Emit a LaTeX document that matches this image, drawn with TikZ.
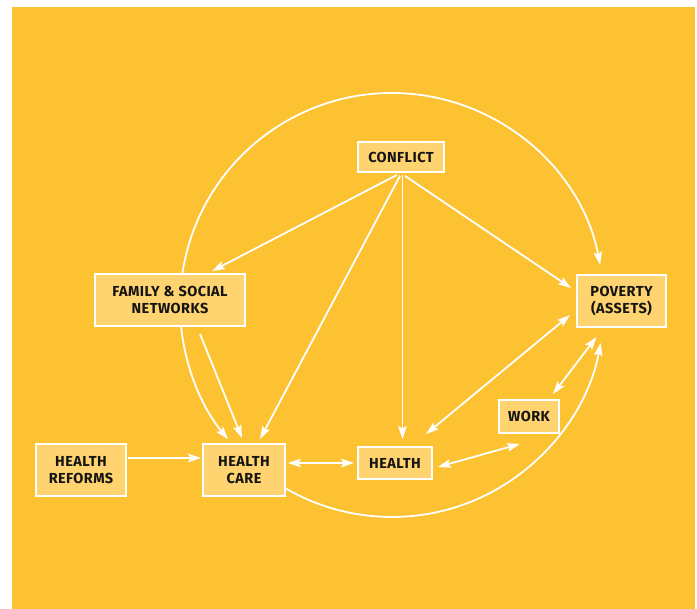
\documentclass[tikz,border=0pt]{standalone}
\usepackage{fontspec}
\setsansfont[LetterSpace=3]{Fira Sans}
\usetikzlibrary{calc,arrows.meta}

\definecolor{bgyellow}{HTML}{FCC232}
\definecolor{boxyellow}{HTML}{FFD470}
\definecolor{ink}{HTML}{141414}

\tikzset{
  factor/.style={draw=white, line width=1.8pt, fill=boxyellow, text=ink,
    inner sep=0pt, align=center,
    font=\sffamily\bfseries\fontsize{14.5}{17}\selectfont},
  tip/.tip={Stealth[length=13pt,width=8.5pt,inset=2.5pt]},
  link/.style={draw=white, line width=1.8pt, -tip},
  dlink/.style={draw=white, line width=1.8pt, tip-tip},
}

\begin{document}
\begin{tikzpicture}[x=1pt,y=-1pt]
		%%%%% START %%%%%
		
		\useasboundingbox (0,0) rectangle (697,609);
		\fill[bgyellow] (12,7) rectangle (695,609);
		
		\coordinate (hub) at (392,305);
		
		\node[factor, minimum width=86pt, minimum height=30pt] (conflict) at (401,157) {CONFLICT};
		\node[factor, minimum width=150pt, minimum height=52pt] (family) at (170,300) {FAMILY \& SOCIAL\\NETWORKS};
		\node[factor, minimum width=89pt, minimum height=52pt] (poverty) at (621.5,301) {POVERTY\\(ASSETS)};
		\node[factor, minimum width=90pt, minimum height=52pt] (reforms) at (81,470) {HEALTH\\REFORMS};
		\node[factor, minimum width=82pt, minimum height=52pt] (care) at (244,470) {HEALTH\\CARE};
		\node[factor, minimum width=74pt, minimum height=32pt] (health) at (395,463) {HEALTH};
		\node[factor, minimum width=60pt, minimum height=33pt] (work) at (529,416.5) {WORK};
		
		% the big circle, in three pieces
		\draw[link] ([shift={(-171.6:212)}]hub) arc[start angle=-171.6, end angle=-10.9, radius=212];
		\draw[link] ([shift={(174.3:212)}]hub) arc[start angle=174.3, end angle=140.7, radius=212];
		\draw[link] ([shift={(120.5:212)}]hub) arc[start angle=120.5, end angle=10.3, radius=212];
		
		% out of conflict
		\draw[link] ($(conflict.south)+(-4,2)$) -- ($(family.north)+(42,-2)$);
		\draw[link] ($(conflict.south)+(-1,3)$) -- ($(care.north)+(16,-4)$);
		\draw[link] ($(conflict.south)+(1.5,2)$) -- ($(health.north)+(7.5,-7)$);
		\draw[link] ($(conflict.south)+(4,3)$) -- ($(poverty.west)+(-5,-13)$);
		
		\draw[link] ($(family.south)+(30,7)$) -- ($(care.north)+(-2,-5)$);
		\draw[link] ($(reforms.east)+(1,-12)$) -- ($(care.west)+(-1,-12)$);
		
		\draw[dlink] ($(care.east)+(2,-7)$) -- ($(health.west)+(-3,0)$);
		\draw[dlink] ($(health.east)+(5,4)$) -- ($(work.south)+(-9,10)$);
		\draw[dlink] ($(health.north)+(31,-12)$) -- ($(poverty.west)+(-6,14)$);
		\draw[dlink] ($(work.north)+(24,-5)$) -- ($(poverty.south)+(-25,9)$);
		
		%%%%% END %%%%%
\end{tikzpicture}
\end{document}
